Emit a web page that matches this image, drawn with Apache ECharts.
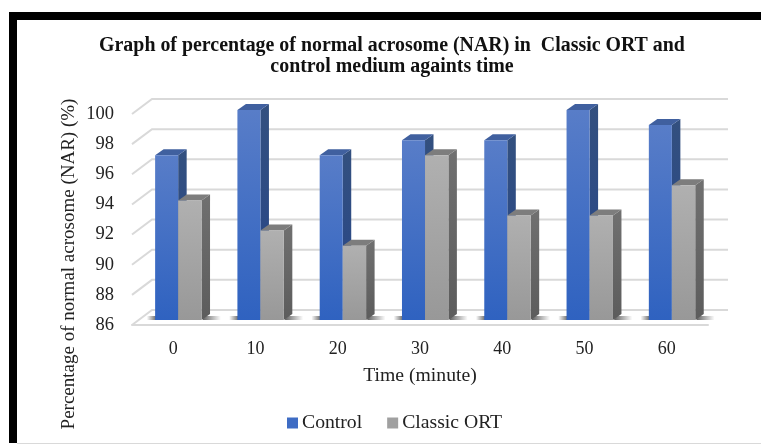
<!DOCTYPE html>
<html><head><meta charset="utf-8">
<style>html,body{margin:0;padding:0;background:#fff}#c{width:761px;height:445px}</style>
<script src="https://cdn.jsdelivr.net/npm/echarts@6/dist/echarts.min.js"></script>
</head><body><div id="c"></div>
<script>
const categories = ['0','10','20','30','40','50','60'];
const control = [97,100,97,98,98,100,99];
const classicORT = [94,92,91,97,93,93,95];
const yTicks = [86,88,90,92,94,96,98,100];
const SERIF = '"Liberation Serif"';
const grid = {left:132, top:114, width:576, height:211};
const lg = (a,b)=>({type:'linear',x:0,y:0,x2:0,y2:1,colorStops:[{offset:0,color:a},{offset:1,color:b}]});
const lgh = (a,b)=>({type:'linear',x:0,y:0,x2:1,y2:0,colorStops:[{offset:0,color:a},{offset:1,color:b}]});

function bar3d(from,to,front,side,top){
  return function(params,api){
    const i=api.value(0), v=api.value(1);
    const band=api.size([1,0])[0];
    const c=api.coord([i,v]), b=api.coord([i,86]);
    const x0=c[0]+band*from, x1=c[0]+band*to, yt=c[1]-4, yb=b[1]-5, dx=8.5, dy=6;
    return {type:'group',children:[
      {type:'polygon',shape:{points:[[x1,yt],[x1+dx,yt-dy],[x1+dx,yb-dy],[x1,yb]]},style:{fill:side}},
      {type:'polygon',shape:{points:[[x0,yt],[x0+dx,yt-dy],[x1+dx,yt-dy],[x1,yt]]},style:{fill:top}},
      {type:'rect',shape:{x:x0,y:yt,width:x1-x0,height:yb-yt},style:{fill:front}}
    ]};
  };
}
function wallLines(params,api){
  const c=api.coord([0,api.value(0)]);
  const x0=grid.left, x1=grid.left+grid.width, dx=20, dy=15;
  const st={stroke:'#d9d9d9',lineWidth:2,fill:'none'};
  return {type:'group',children:[
    {type:'polyline',shape:{points:[[x0,c[1]],[x0+dx,c[1]-dy],[x1+dx,c[1]-dy]]},style:st}
  ]};
}
function floorShadow(params,api){
  const c=api.coord([api.value(0),86]);
  const band=api.size([1,0])[0];
  const yb=c[1]-5;
  return {type:'group',children:[
    {type:'rect',shape:{x:c[0]-band*0.32,y:yb-4,width:band*0.12,height:4},
     style:{fill:lgh('rgba(70,70,70,0)','rgba(70,70,70,0.85)')}},
    {type:'rect',shape:{x:c[0]+band*0.36,y:yb-4,width:band*0.22,height:4},
     style:{fill:lgh('rgba(70,70,70,0.85)','rgba(70,70,70,0)')}}
  ]};
}
const chart=echarts.init(document.getElementById('c'),null,{renderer:'canvas'});
chart.setOption({
  animation:false,
  backgroundColor:'#fff',
  title:{text:'Graph of percentage of normal acrosome (NAR) in  Classic ORT and\ncontrol medium againts time',
    left:387,top:30,textAlign:'center',
    textStyle:{fontFamily:SERIF,fontWeight:'bold',fontSize:19.9,lineHeight:21,color:'#111'}},
  legend:{left:282,top:408,itemWidth:11,itemHeight:11,itemGap:25,icon:'rect',
    data:['Control','Classic ORT'],
    textStyle:{fontFamily:SERIF,fontSize:19.7,color:'#222',padding:[0,0,0,-1]}},
  grid:grid,
  xAxis:{type:'category',data:categories,
    name:'Time (minute)',nameLocation:'middle',nameGap:41,
    nameTextStyle:{fontFamily:SERIF,fontSize:19.7,color:'#222'},
    axisLine:{show:true,lineStyle:{color:'#d9d9d9',width:2}},axisTick:{show:false},
    axisLabel:{fontFamily:SERIF,fontSize:18,color:'#222',margin:15}},
  yAxis:{type:'value',min:86,max:100,interval:2,
    axisLine:{show:false},axisTick:{show:false},splitLine:{show:false},
    axisLabel:{fontFamily:SERIF,fontSize:18.5,color:'#222',margin:18}},
  graphic:[
    {type:'rect',z:100,shape:{x:9,y:12,width:752,height:8},style:{fill:'#000'}},
    {type:'rect',z:100,shape:{x:9,y:12,width:8,height:431},style:{fill:'#000'}},
    {type:'rect',z:100,shape:{x:17,y:443,width:744,height:1},style:{fill:'#d9d9d9'}},
    {type:'text',z:100,x:69,y:264,rotation:Math.PI/2,
     style:{text:'Percentage of normal acrosome (NAR) (%)',fontFamily:SERIF,fontSize:19,fill:'#222',align:'center',verticalAlign:'middle'}}
  ],
  series:[
    {type:'custom',name:'wall',silent:true,z:1,data:yTicks.map(v=>[v]),
     encode:{y:0},renderItem:wallLines},
    {type:'custom',name:'shadow',silent:true,z:2,data:categories.map((c,i)=>[i,86]),
     encode:{x:0,y:1},renderItem:floorShadow},
    {type:'custom',name:'Control',z:3,data:control.map((v,i)=>[i,v]),encode:{x:0,y:1},
     itemStyle:{color:'#3e6cc4'},
     renderItem:bar3d(-0.219,0.061,lg('#587dc8','#2f62c0'),lg('#33507f','#27468a'),'#40609f')},
    {type:'custom',name:'Classic ORT',z:4,data:classicORT.map((v,i)=>[i,v]),encode:{x:0,y:1},
     itemStyle:{color:'#a0a0a0'},
     renderItem:bar3d(0.061,0.345,lg('#b0b0b0','#989898'),lg('#707070','#5c5c5c'),'#7d7d7d')}
  ]
});
</script></body></html>
